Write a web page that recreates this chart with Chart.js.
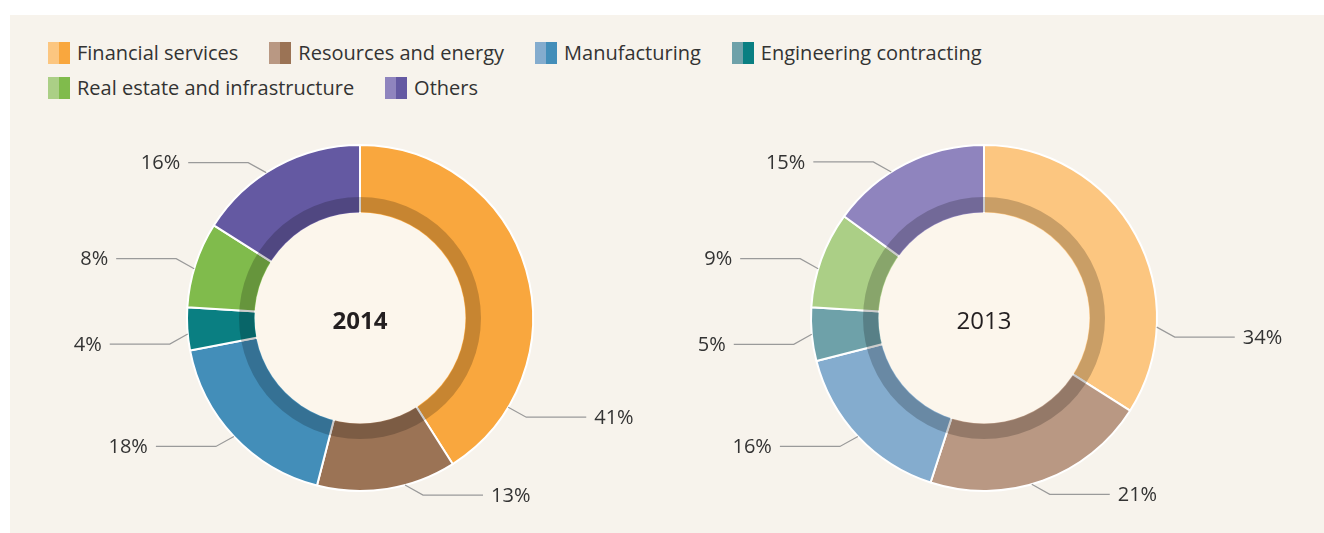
<!DOCTYPE html>
<html>
<head>
<meta charset="utf-8">
<script src="https://cdn.jsdelivr.net/npm/chart.js@4/dist/chart.umd.min.js"></script>
<style>
    html, body { margin: 0; padding: 0; background: #ffffff; }
    body { width: 1324px; height: 533px; position: relative; overflow: hidden; font-family: 'Open Sans', 'Noto Sans', sans-serif; }
    #panel { position: absolute; left: 10px; top: 15px; right: 0; bottom: 0; background: #f7f3ec; }
    #legend { position: absolute; left: 48px; top: 35px; width: 1000px; display: flex; flex-wrap: wrap; }
    .item { display: flex; align-items: center; height: 35px; margin-right: 31px; color: #333333; font-size: 20px; }
    .swatch { width: 22px; height: 22px; margin-right: 7px; }
    canvas { position: absolute; top: 118px; }
    #chart2014 { left: 40px; }
    #chart2013 { left: 664px; }
</style>
</head>
<body>
<div id="panel"></div>
<div id="legend"></div>
<canvas id="chart2014" width="640" height="400"></canvas>
<canvas id="chart2013" width="640" height="400"></canvas>
<script>
// Data
const categories = ['Financial services', 'Resources and energy', 'Manufacturing', 'Engineering contracting', 'Real estate and infrastructure', 'Others'];
const values2014 = [41, 13, 18, 4, 8, 16];
const values2013 = [34, 21, 16, 5, 9, 15];

// Colours (2014 = strong, 2013 = light)
const colors2014 = ['#f9a73e', '#9b7355', '#438eb9', '#0a7f82', '#80bb4c', '#6459a2'];
const colors2013 = ['#fcc680', '#b99883', '#84acce', '#6ea1a9', '#abcf86', '#8f84be'];

// Where the leader line leaves each slice (fraction along the slice)
const anchors2014 = [0.82, 0.37, 0.5, 0.38, 0.45, 0.43];
const anchors2013 = [0.76, 0.55, 0.5, 0.5, 0.4, 0.4];

// Legend with two-tone swatches
const legend = document.getElementById('legend');
categories.forEach((name, i) => {
    const item = document.createElement('div');
    item.className = 'item';
    const sw = document.createElement('span');
    sw.className = 'swatch';
    sw.style.background = `linear-gradient(to right, ${colors2013[i]} 50%, ${colors2014[i]} 50%)`;
    const txt = document.createElement('span');
    txt.textContent = name;
    item.appendChild(sw);
    item.appendChild(txt);
    legend.appendChild(item);
});

const OUTER = 173;
const INNER = 106;
const BAND = 15;

// Centre fill, darker inner band, centre label and leader lines
const donutDecor = {
    id: 'donutDecor',
    afterDatasetsDraw(chart, args, opts) {
        const { ctx } = chart;
        const meta = chart.getDatasetMeta(0);
        const arc0 = meta.data[0];
        const cx = arc0.x, cy = arc0.y;

        ctx.save();
        // dark inner band
        ctx.beginPath();
        ctx.arc(cx, cy, INNER + BAND, 0, Math.PI * 2);
        ctx.arc(cx, cy, INNER, 0, Math.PI * 2, true);
        ctx.fillStyle = 'rgba(0, 0, 0, 0.2)';
        ctx.fill();
        // centre disc
        ctx.beginPath();
        ctx.arc(cx, cy, INNER - 0.5, 0, Math.PI * 2);
        ctx.fillStyle = '#fcf6ec';
        ctx.fill();

        // year label
        ctx.fillStyle = '#231f20';
        ctx.font = `${opts.bold ? 'bold ' : ''}24px 'Open Sans', sans-serif`;
        ctx.textAlign = 'center';
        ctx.textBaseline = 'middle';
        ctx.fillText(opts.title, cx, cy + 4);

        // leader lines and percentages
        ctx.font = "20px 'Open Sans', sans-serif";
        ctx.strokeStyle = '#9a9a9a';
        ctx.lineWidth = 1.2;
        meta.data.forEach((arc, i) => {
            const f = opts.anchors[i];
            const a = arc.startAngle + (arc.endAngle - arc.startAngle) * f;
            const px = cx + Math.cos(a) * OUTER;
            const py = cy + Math.sin(a) * OUTER;
            const sx = Math.cos(a) >= 0 ? 1 : -1;
            const sy = Math.sin(a) >= 0 ? 1 : -1;
            const ex = px + sx * 18;
            const ey = py + sy * 10;
            const lx = ex + sx * 60;
            ctx.beginPath();
            ctx.moveTo(px, py);
            ctx.lineTo(ex, ey);
            ctx.lineTo(lx, ey);
            ctx.stroke();
            ctx.fillStyle = '#333333';
            ctx.textAlign = sx > 0 ? 'left' : 'right';
            ctx.fillText(chart.data.datasets[0].data[i] + '%', lx + sx * 8, ey + 1);
        });
        ctx.restore();
    }
};

function makeDonut(id, values, colors, anchors, title, bold) {
    return new Chart(document.getElementById(id), {
        type: 'doughnut',
        data: {
            labels: categories,
            datasets: [{
                data: values,
                backgroundColor: colors,
                borderColor: '#ffffff',
                borderWidth: 2,
            }],
        },
        options: {
            responsive: false,
            animation: false,
            radius: OUTER,
            cutout: INNER,
            layout: { padding: 0 },
            plugins: {
                legend: { display: false },
                tooltip: { enabled: false },
                donutDecor: { anchors, title, bold },
            },
        },
        plugins: [donutDecor],
    });
}

makeDonut('chart2014', values2014, colors2014, anchors2014, '2014', true);
makeDonut('chart2013', values2013, colors2013, anchors2013, '2013', false);
</script>
</body>
</html>
